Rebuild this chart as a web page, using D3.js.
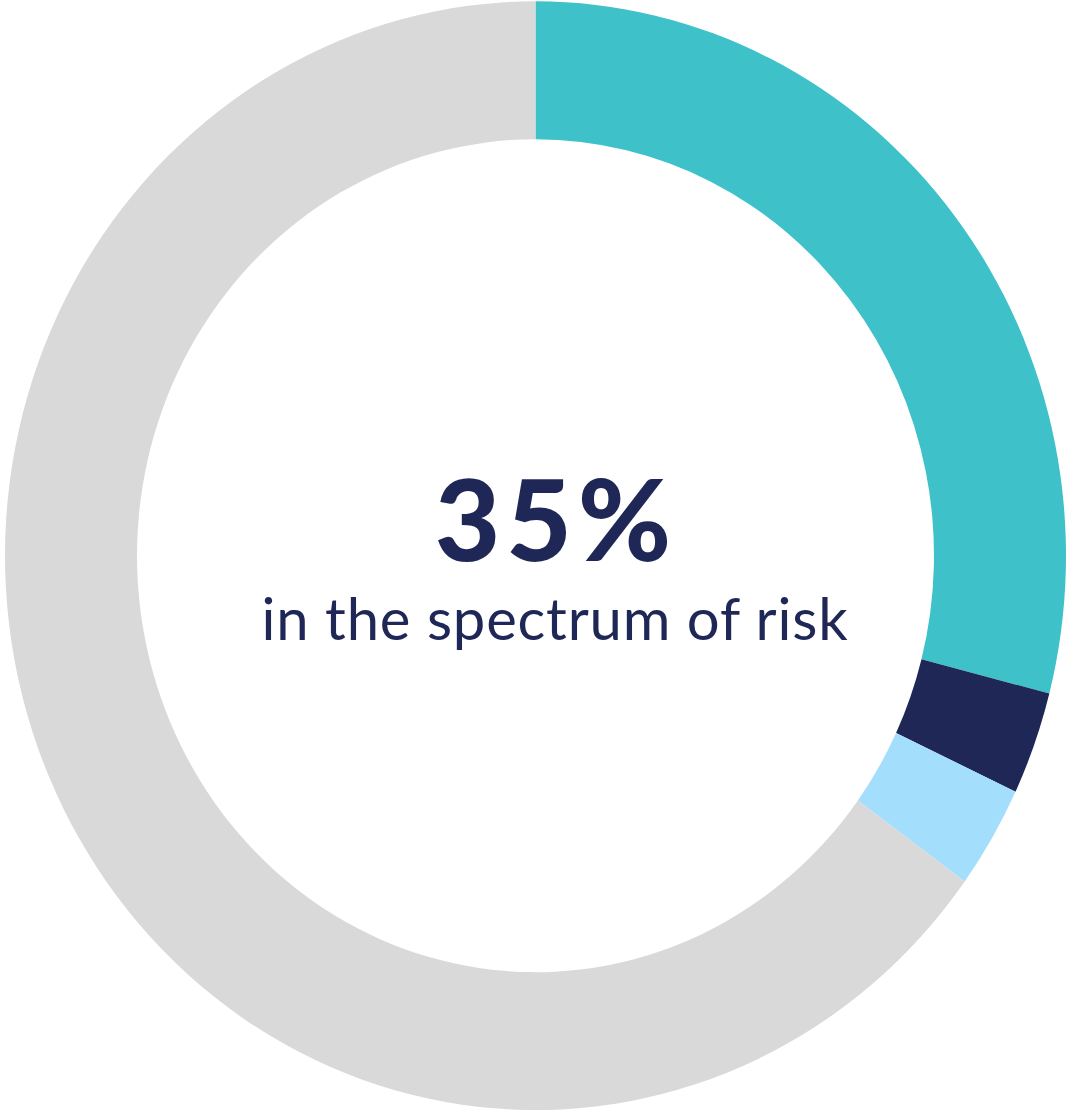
<!DOCTYPE html>
<html>
<head>
<meta charset="utf-8">
<script src="https://cdn.jsdelivr.net/npm/d3@7"></script>
<style>
  body { margin: 0; background: #fff; }
  svg { display: block; }
</style>
</head>
<body>
<div id="area"></div>
<script>
// segment data, clockwise from 12 o'clock
var labels = ["risk", "high", "medium", "rest"];
var values = [29, 3, 3, 65];
var colors = ["#3EC1C9", "#1E2756", "#A3DEFC", "#D9D9D9"];
var bigText = "35%";
var subText = "in the spectrum of risk";

var width = 1069, height = 1111;
var cx = 535.5, cy = 555.7;

var svg = d3.select("#area")
    .append("svg")
    .attr("width", width)
    .attr("height", height);

var pie = d3.pie().sort(null).value(function (d) { return d; });
var arc = d3.arc().innerRadius(398.5).outerRadius(530.5);

// the original is a little taller than wide
var g = svg.append("g")
    .attr("transform", "translate(" + cx + "," + cy + ") scale(1,1.045)");

g.selectAll("path")
    .data(pie(values))
    .enter()
    .append("path")
    .attr("d", arc)
    .attr("fill", function (d, i) { return colors[i]; });

svg.append("text")
    .attr("x", 556)
    .attr("y", 561)
    .attr("text-anchor", "middle")
    .attr("font-family", "Lato, sans-serif")
    .attr("font-weight", 900)
    .attr("font-size", 113)
    .attr("letter-spacing", 6)
    .attr("fill", "#1E2756")
    .text(bigText);

svg.append("text")
    .attr("x", 555)
    .attr("y", 640)
    .attr("text-anchor", "middle")
    .attr("font-family", "Lato, sans-serif")
    .attr("font-size", 58)
    .attr("letter-spacing", 0.8)
    .attr("fill", "#1E2756")
    .text(subText);
</script>
</body>
</html>
